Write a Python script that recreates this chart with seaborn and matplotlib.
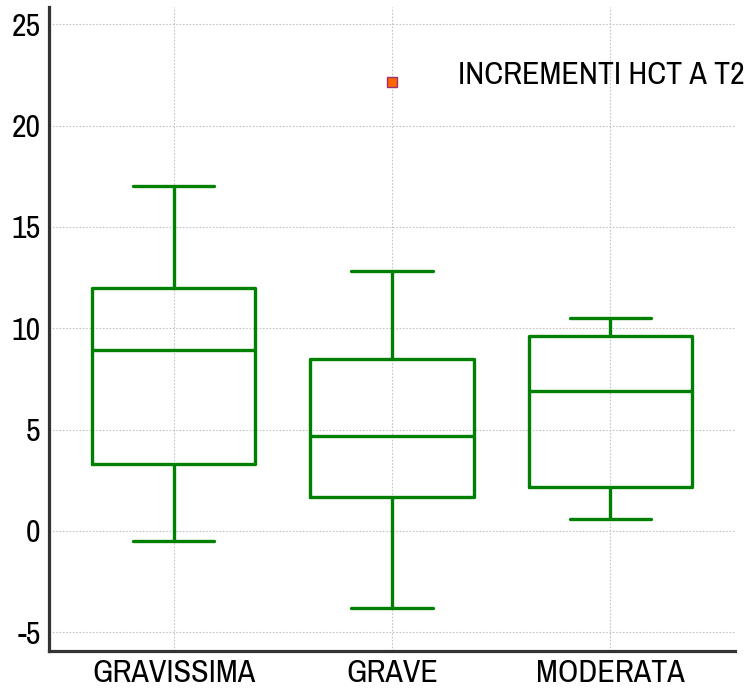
import matplotlib
matplotlib.use("Agg")
import matplotlib.pyplot as plt
import seaborn as sns
import pandas as pd
from matplotlib import font_manager

# ---- data ----
categories = ["GRAVISSIMA", "GRAVE", "MODERATA"]
gravissima = [-0.5, 3.3, 8.93, 12.0, 17.0]
grave = [-3.8, 1.68, 1.68, 4.69, 4.69, 8.49, 8.49, 12.83, 22.15]
moderata = [0.59, 2.17, 6.9, 9.62, 10.5]
y_ticks = [-5, 0, 5, 10, 15, 20, 25]
title = "INCREMENTI HCT A T2"

df = pd.DataFrame({
    "group": [categories[0]] * len(gravissima) + [categories[1]] * len(grave) + [categories[2]] * len(moderata),
    "value": gravissima + grave + moderata,
})

sns.set_style("white")
names = {f.name for f in font_manager.fontManager.ttflist}
fams = [f for f in ["Archivo Narrow", "Liberation Sans Narrow"] if f in names] + ["DejaVu Sans"]
plt.rcParams["font.family"] = fams

fig = plt.figure(figsize=(7.5, 6.98), dpi=100)
ax = fig.add_axes([49 / 750, 1 - 651 / 698, (735 - 49) / 750, (651 - 7) / 698])

sns.boxplot(
    data=df, x="group", y="value", order=categories, ax=ax,
    fill=False, color="#008000", linecolor="#008000", linewidth=2.4, width=0.75,
    whis=1.5,
    flierprops=dict(marker="s", markerfacecolor="#FF6600", markeredgecolor="#993377",
                    markersize=7, markeredgewidth=1),
)

ax.set_xlim(-0.57, 2.57)
ax.set_ylim(-5.92, 25.85)
ax.set_yticks(y_ticks)
ax.set_yticklabels([str(t) for t in y_ticks])
ax.set_xlabel("")
ax.set_ylabel("")

ax.grid(True, color="#c4c4c4", linestyle=(0, (1.5, 1.5)), linewidth=0.8)
ax.set_axisbelow(True)

for s in ["top", "right"]:
    ax.spines[s].set_visible(False)
for s in ["left", "bottom"]:
    ax.spines[s].set_color("#333333")
    ax.spines[s].set_linewidth(2.3)

ax.tick_params(axis="both", direction="in", length=10, width=1.8, color="#333333",
               labelsize=23, labelcolor="black", pad=6)

ax.text(0.596, 0.894, title, transform=ax.transAxes, ha="left", va="center",
        fontsize=23, color="black")

fig.savefig("out.png", dpi=100)
